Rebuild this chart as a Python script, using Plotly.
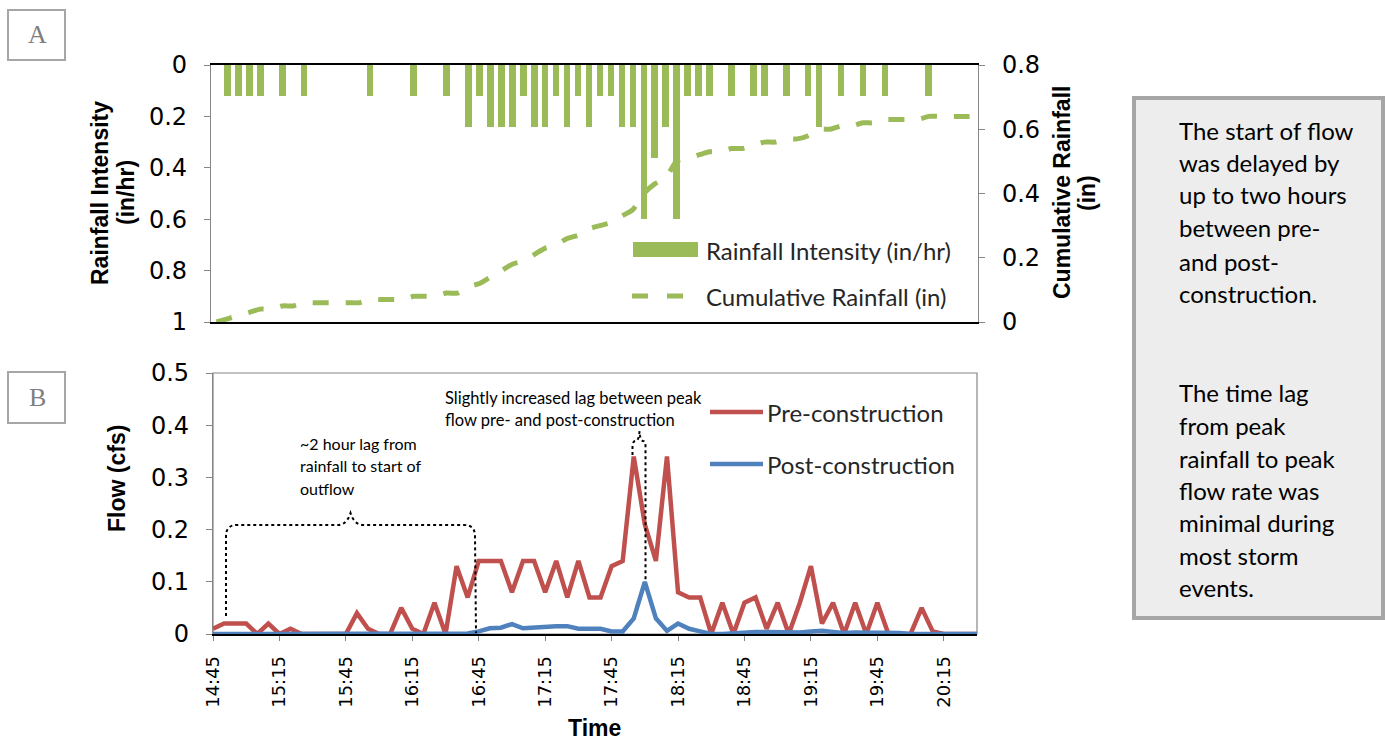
import plotly.graph_objects as go

# ---------------- data ----------------
times = ["14:45", "14:50", "14:55",
         "15:00", "15:05", "15:10", "15:15", "15:20", "15:25", "15:30", "15:35", "15:40", "15:45", "15:50", "15:55",
         "16:00", "16:05", "16:10", "16:15", "16:20", "16:25", "16:30", "16:35", "16:40", "16:45", "16:50", "16:55",
         "17:00", "17:05", "17:10", "17:15", "17:20", "17:25", "17:30", "17:35", "17:40", "17:45", "17:50", "17:55",
         "18:00", "18:05", "18:10", "18:15", "18:20", "18:25", "18:30", "18:35", "18:40", "18:45", "18:50", "18:55",
         "19:00", "19:05", "19:10", "19:15", "19:20", "19:25", "19:30", "19:35", "19:40", "19:45", "19:50", "19:55",
         "20:00", "20:05", "20:10", "20:15", "20:20", "20:25", "20:30"]

rain_intensity = [0, 0.12, 0.12, 0.12, 0.12, 0, 0.12, 0, 0.12, 0,
                  0, 0, 0, 0, 0.12, 0, 0, 0, 0.12, 0,
                  0, 0.12, 0, 0.24, 0.12, 0.24, 0.24, 0.24, 0.12, 0.24,
                  0.24, 0.12, 0.24, 0.12, 0.24, 0.12, 0.12, 0.24, 0.24, 0.6,
                  0.36, 0.24, 0.6, 0.12, 0.12, 0.12, 0, 0.12, 0, 0.12,
                  0.12, 0, 0.12, 0, 0.12, 0.24, 0, 0.12, 0, 0.12,
                  0, 0.12, 0, 0, 0, 0.12, 0, 0, 0, 0]

cumulative_rain = [0, 0.01, 0.02, 0.03, 0.04, 0.04, 0.05, 0.05, 0.06, 0.06,
                   0.06, 0.06, 0.06, 0.06, 0.07, 0.07, 0.07, 0.07, 0.08, 0.08,
                   0.08, 0.09, 0.09, 0.11, 0.12, 0.14, 0.16, 0.18, 0.19, 0.21,
                   0.23, 0.24, 0.26, 0.27, 0.29, 0.30, 0.31, 0.33, 0.35, 0.40,
                   0.43, 0.45, 0.50, 0.51, 0.52, 0.53, 0.53, 0.54, 0.54, 0.55,
                   0.56, 0.56, 0.57, 0.57, 0.58, 0.60, 0.60, 0.61, 0.61, 0.62,
                   0.62, 0.63, 0.63, 0.63, 0.63, 0.64, 0.64, 0.64, 0.64, 0.64]

pre_construction = [0.01, 0.02, 0.02, 0.02, 0, 0.02, 0, 0.01, 0, 0,
                    0, 0, 0, 0.04, 0.01, 0, 0, 0.05, 0.01, 0,
                    0.06, 0, 0.13, 0.07, 0.14, 0.14, 0.14, 0.08, 0.14, 0.14,
                    0.08, 0.14, 0.07, 0.14, 0.07, 0.07, 0.13, 0.14, 0.34, 0.21,
                    0.14, 0.34, 0.08, 0.07, 0.07, 0, 0.06, 0, 0.06, 0.07,
                    0.01, 0.06, 0, 0.06, 0.13, 0.02, 0.06, 0, 0.06, 0,
                    0.06, 0, 0, 0, 0.05, 0.005, 0, 0, 0, 0]

post_construction = [0, 0, 0, 0, 0, 0, 0, 0, 0, 0,
                     0, 0, 0, 0, 0, 0, 0, 0, 0, 0,
                     0, 0, 0, 0.001, 0.005, 0.011, 0.012, 0.019, 0.011, 0.013,
                     0.013, 0.015, 0.015, 0.01, 0.01, 0.01, 0.005, 0.005, 0.03, 0.10,
                     0.03, 0.006, 0.02, 0.01, 0.005, 0, 0, 0.002, 0.004, 0.004,
                     0.004, 0.003, 0.002, 0.003, 0.005, 0.006, 0.004, 0.002, 0.003, 0.003,
                     0.003, 0.004, 0.002, 0, 0, 0, 0, 0, 0, 0]

tick_labels = ["14:45", "15:15", "15:45", "16:15", "16:45", "17:15",
               "17:45", "18:15", "18:45", "19:15", "19:45", "20:15"]

box_lines_1 = ["The start of flow", "was delayed by", "up to two hours",
               "between pre-", "and post-", "construction."]
box_lines_2 = ["The time lag", "from peak", "rainfall to peak", "flow rate was",
               "minimal during", "most storm", "events."]

# ---------------- helpers ----------------
DAY = "2000-01-01 "
x_dt = [DAY + t for t in times]
W, H = 1385, 740


def px(x):
    return x / W


def py(y):
    return 1 - y / H


# plot areas (pixels)
TL, TR, TT, TB = 211, 978, 65, 322
BL, BR, BT, BB = 213, 977, 373, 634


def bx(x):  # bottom-plot domain fraction
    return (x - BL) / (BR - BL)


def by(y):
    return (BB - y) / (BB - BT)


GREEN = "#9BBB59"
RED = "#C0504D"
BLUE = "#4F81BD"
AXGRAY = "#868686"
TXT = "#262626"
CAL = "Lato, 'Open Sans', sans-serif"
TITLEF = "'Liberation Sans', Arial, sans-serif"
TICKF = "'DejaVu Sans', Verdana, sans-serif"

fig = go.Figure()

fig.add_trace(go.Bar(x=x_dt, y=rain_intensity, width=3 * 60 * 1000,
                     marker=dict(color=GREEN, line=dict(width=0)),
                     xaxis="x", yaxis="y", showlegend=False,
                     name="Rainfall Intensity (in/hr)"))
fig.add_trace(go.Scatter(x=x_dt, y=cumulative_rain, mode="lines",
                         line=dict(color=GREEN, width=5, dash="16px,17px",
                                   shape="spline", smoothing=0.7),
                         xaxis="x", yaxis="y2", showlegend=False,
                         name="Cumulative Rainfall (in)"))
fig.add_trace(go.Scatter(x=x_dt, y=pre_construction, mode="lines",
                         line=dict(color=RED, width=4.5),
                         xaxis="x2", yaxis="y3", showlegend=False,
                         name="Pre-construction"))
fig.add_trace(go.Scatter(x=x_dt, y=post_construction, mode="lines",
                         line=dict(color=BLUE, width=4.5),
                         xaxis="x2", yaxis="y3", showlegend=False,
                         name="Post-construction"))

tickfont = dict(family=TICKF, size=24, color="#000000")

fig.update_layout(
    width=W, height=H,
    margin=dict(l=0, r=0, t=0, b=0, pad=0, autoexpand=False),
    paper_bgcolor="white", plot_bgcolor="white",
    bargap=0,
    xaxis=dict(domain=[px(TL), px(TR)], anchor="y", type="date",
               range=[DAY + "14:42:30", DAY + "20:32:30"],
               showticklabels=False, ticks="", showgrid=False,
               showline=True, linecolor="#000000", linewidth=1.5, mirror=True,
               zeroline=False, automargin=False),
    yaxis=dict(domain=[py(TB), py(TT)], anchor="x", range=[1, 0],
               tickvals=[0, 0.2, 0.4, 0.6, 0.8, 1],
               ticks="outside", ticklen=6, tickcolor=AXGRAY,
               showline=True, linecolor=AXGRAY, linewidth=1.2,
               showgrid=False, zeroline=False, automargin=False,
               tickfont=tickfont, ticklabelstandoff=12),
    yaxis2=dict(anchor="x", overlaying="y", side="right", range=[0, 0.8],
                tickvals=[0, 0.2, 0.4, 0.6, 0.8],
                ticks="outside", ticklen=6, tickcolor=AXGRAY,
                showline=True, linecolor=AXGRAY, linewidth=1.2,
                showgrid=False, zeroline=False, automargin=False,
                tickfont=tickfont, ticklabelstandoff=12),
    xaxis2=dict(domain=[px(BL), px(BR)], anchor="y3", type="date",
                range=[DAY + "14:45", DAY + "20:30"],
                tickvals=[DAY + t for t in tick_labels], ticktext=tick_labels,
                tickangle=-90, ticks="outside", ticklen=5, tickcolor=AXGRAY,
                tickfont=dict(family=TICKF, size=18, color="#000000"),
                ticklabelstandoff=8,
                showline=True, linecolor="#000000", linewidth=1.5,
                showgrid=False, zeroline=False, automargin=False),
    yaxis3=dict(domain=[py(BB), py(BT)], anchor="x2", range=[0, 0.5],
                tickvals=[0, 0.1, 0.2, 0.3, 0.4, 0.5],
                ticktext=["0", "0.1", "0.2", "0.3", "0.4", "0.5"],
                ticks="outside", ticklen=6, tickcolor=AXGRAY,
                showline=True, linecolor=AXGRAY, linewidth=1.2,
                showgrid=False, zeroline=False, automargin=False,
                tickfont=tickfont, ticklabelstandoff=12),
)

shapes = []
annotations = []

# bottom plot border (top/right)
shapes.append(dict(type="rect", xref="x2 domain", yref="y3 domain",
                   x0=0, x1=1, y0=0, y1=1,
                   line=dict(color=AXGRAY, width=1.2), layer="below"))

# ---- custom legend, top chart ----
shapes.append(dict(type="rect", xref="paper", yref="paper",
                   x0=px(633), x1=px(698), y0=py(257), y1=py(242),
                   fillcolor=GREEN, line=dict(width=0)))
shapes.append(dict(type="line", xref="paper", yref="paper",
                   x0=px(632), x1=px(684), y0=py(296), y1=py(296),
                   line=dict(color=GREEN, width=5, dash="16px,19px")))
annotations.append(dict(text="Rainfall Intensity (in/hr)", xref="paper", yref="paper",
                        x=px(704), y=py(250), xanchor="left", yanchor="middle",
                        showarrow=False, font=dict(family=CAL, size=24, color=TXT)))
annotations.append(dict(text="Cumulative Rainfall (in)", xref="paper", yref="paper",
                        x=px(704), y=py(296), xanchor="left", yanchor="middle",
                        showarrow=False, font=dict(family=CAL, size=24, color=TXT)))

# ---- custom legend, bottom chart ----
for yy, col, label in [(412, RED, "Pre-construction"), (464, BLUE, "Post-construction")]:
    shapes.append(dict(type="line", xref="paper", yref="paper",
                       x0=px(710), x1=px(763), y0=py(yy), y1=py(yy),
                       line=dict(color=col, width=4.5)))
    annotations.append(dict(text=label, xref="paper", yref="paper",
                            x=px(765), y=py(yy), xanchor="left", yanchor="middle",
                            showarrow=False, font=dict(family=CAL, size=24, color=TXT)))

# ---- dotted braces (bottom chart) ----
def P(x, y):
    return f"{bx(x):.5f},{by(y):.5f}"


brace1 = (f"M{P(226, 616)} L{P(226, 536)} Q{P(226, 525)} {P(237, 525)} "
          f"L{P(339, 525)} Q{P(347, 524)} {P(350.5, 513)} Q{P(354, 524)} {P(362, 525)} "
          f"L{P(464, 525)} Q{P(475, 525)} {P(475, 536)} L{P(476, 633)}")
brace2 = (f"M{P(632.5, 455)} L{P(632.5, 446)} Q{P(632.5, 441)} {P(636, 441)} "
          f"Q{P(639, 440)} {P(639.5, 431)} Q{P(640, 440)} {P(643, 441)} "
          f"Q{P(645.5, 441)} {P(645.5, 446)} L{P(645.5, 580)}")
for path in (brace1, brace2):
    shapes.append(dict(type="path", xref="x2 domain", yref="y3 domain", path=path,
                       line=dict(color="#000000", width=2, dash="dot")))

# ---- annotation texts in bottom chart ----
for txt, yy in [("Slightly increased lag between peak", 398),
                ("flow pre- and post-construction", 420)]:
    annotations.append(dict(text=txt, xref="paper", yref="paper", x=px(443), y=py(yy),
                            xanchor="left", yanchor="middle", showarrow=False,
                            font=dict(family=CAL, size=16.5, color="#000000")))
for txt, yy in [("~2 hour lag from", 443), ("rainfall to start of", 465), ("outflow", 488)]:
    annotations.append(dict(text=txt, xref="paper", yref="paper", x=px(298), y=py(yy),
                            xanchor="left", yanchor="middle", showarrow=False,
                            font=dict(family=CAL, size=16, color="#000000")))

# ---- axis titles ----
title_font = dict(family=TITLEF, size=23, color="#000000")
annotations += [
    dict(text="<b>Rainfall Intensity</b>", x=px(100), y=py(193), textangle=-90),
    dict(text="<b>(in/hr)</b>", x=px(126), y=py(193), textangle=-90),
    dict(text="<b>Cumulative Rainfall</b>", x=px(1062), y=py(193), textangle=-90),
    dict(text="<b>(in)</b>", x=px(1087), y=py(193), textangle=-90),
    dict(text="<b>Flow (cfs)</b>", x=px(117), y=py(478), textangle=-90),
    dict(text="<b>Time</b>", x=px(594), y=py(728), textangle=0),
]
for a in annotations[-6:]:
    a.update(xref="paper", yref="paper", xanchor="center", yanchor="middle",
             showarrow=False, font=title_font)

# ---- panel labels ----
for label, y0, y1 in [("A", 10, 60), ("B", 372, 423)]:
    shapes.append(dict(type="rect", xref="paper", yref="paper",
                       x0=px(8), x1=px(65), y0=py(y1), y1=py(y0),
                       line=dict(color="#A6A6A6", width=2), fillcolor="white"))
    annotations.append(dict(text=label, xref="paper", yref="paper",
                            x=px(37), y=py((y0 + y1) / 2), xanchor="center", yanchor="middle",
                            showarrow=False,
                            font=dict(family="'Liberation Serif', 'DejaVu Serif', serif",
                                      size=26, color="#7F7F7F")))

# ---- right text box ----
shapes.append(dict(type="rect", xref="paper", yref="paper",
                   x0=px(1134), x1=px(1383), y0=py(618), y1=py(98),
                   line=dict(color="#A6A6A6", width=4), fillcolor="#EDEDED"))
line_y1 = [131, 163, 195, 228, 261, 294]
line_y2 = [392, 425, 458, 490, 522, 555, 587]
for txt, yy in list(zip(box_lines_1, line_y1)) + list(zip(box_lines_2, line_y2)):
    annotations.append(dict(text=txt, xref="paper", yref="paper", x=px(1177), y=py(yy),
                            xanchor="left", yanchor="middle", showarrow=False,
                            font=dict(family=CAL, size=24, color="#000000")))

fig.update_layout(shapes=shapes, annotations=annotations)
fig.write_html(
    "out.html",
    config={"displayModeBar": False},
    post_script=["document.documentElement.style.overflow='hidden';"
                 "document.body.style.margin='0';"
                 "document.body.style.overflow='hidden';"])
